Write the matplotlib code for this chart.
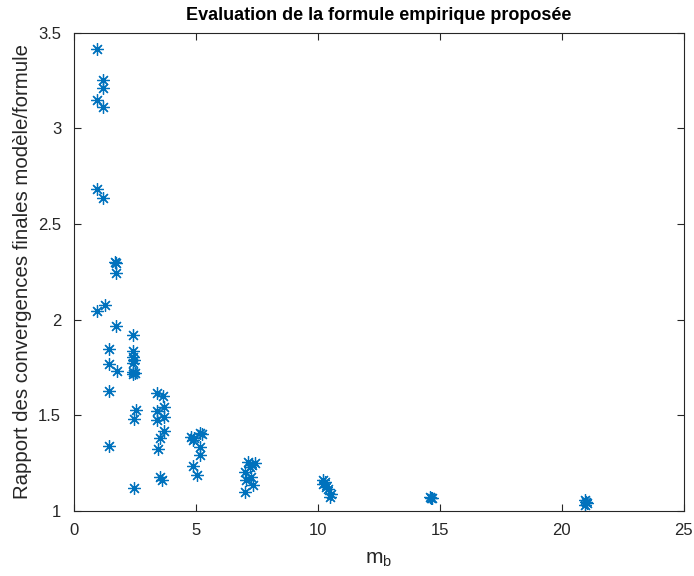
import matplotlib
matplotlib.use("Agg")
import matplotlib.pyplot as plt

# valeurs (m_b, rapport)
mb_1 = [0.97, 1.19, 1.22, 0.97, 1.19, 0.97, 1.19, 0.97, 1.29]
r_1 = [3.413, 3.251, 3.214, 3.148, 3.110, 2.681, 2.634, 2.046, 2.076]

mb_15 = [1.45, 1.45, 1.45, 1.45, 1.68, 1.74, 1.72, 1.72, 1.79]
r_15 = [1.849, 1.766, 1.628, 1.340, 2.302, 2.296, 2.242, 1.968, 1.731]

mb_25 = [2.42, 2.42, 2.45, 2.47, 2.45, 2.42, 2.50, 2.45, 2.56, 2.47, 2.47]
r_25 = [1.921, 1.837, 1.805, 1.788, 1.771, 1.727, 1.722, 1.715, 1.530, 1.483, 1.122]

mb_35 = [3.43, 3.65, 3.70, 3.43, 3.70, 3.43, 3.70, 3.55, 3.48, 3.55, 3.62]
r_35 = [1.619, 1.600, 1.541, 1.523, 1.492, 1.474, 1.418, 1.379, 1.326, 1.178, 1.161]

mb_5 = [4.83, 5.17, 4.90, 5.17, 5.17, 4.88, 5.04, 4.95, 5.25]
r_5 = [1.387, 1.405, 1.370, 1.335, 1.291, 1.234, 1.187, 1.38, 1.40]

mb_7 = [7.15, 7.42, 7.22, 7.01, 7.29, 7.06, 7.35, 7.01, 7.30]
r_7 = [1.256, 1.248, 1.230, 1.204, 1.178, 1.161, 1.134, 1.099, 1.24]

mb_10 = [10.22, 10.24, 10.33, 10.42, 10.56, 10.52, 10.30]
r_10 = [1.16, 1.143, 1.126, 1.117, 1.091, 1.073, 1.15]

mb_15b = [14.6, 14.7, 14.65]
r_15b = [1.075, 1.07, 1.065]

mb_21 = [20.95, 21.0, 21.05, 20.98]
r_21 = [1.055, 1.045, 1.04, 1.03]

mb = mb_1 + mb_15 + mb_25 + mb_35 + mb_5 + mb_7 + mb_10 + mb_15b + mb_21
r = r_1 + r_15 + r_25 + r_35 + r_5 + r_7 + r_10 + r_15b + r_21

plt.rcParams["font.family"] = ["Liberation Sans", "DejaVu Sans"]
plt.rcParams["mathtext.default"] = "regular"

fig = plt.figure(figsize=(6.94, 5.76), dpi=100)
ax = fig.add_axes([0.106, 0.113, 0.879, 0.830])

ax.plot(mb, r, linestyle="none", marker=(8, 2, 0), ms=9, mew=0.9,
        color=(0, 0.447, 0.741))

ax.set_xlim(0, 25)
ax.set_ylim(1, 3.5)
ax.set_xticks([0, 5, 10, 15, 20, 25])
ax.set_yticks([1, 1.5, 2, 2.5, 3, 3.5])
ax.set_yticklabels(["1", "1.5", "2", "2.5", "3", "3.5"])

gris = (0.15, 0.15, 0.15)
for s in ax.spines.values():
    s.set_color(gris)
    s.set_linewidth(0.8)
ax.tick_params(direction="in", top=True, right=True, colors=gris,
               labelsize=12, length=5, width=0.8)
ax.tick_params(axis="x", pad=9)
ax.tick_params(axis="y", pad=9)

ax.set_title("Evaluation de la formule empirique proposée", fontsize=13,
             fontweight="bold", color="black", pad=9)
ax.set_xlabel("m$_b$", fontsize=15, color=gris, labelpad=8)
ax.set_ylabel("Rapport des convergences finales modèle/formule", fontsize=14.7,
              color=gris, labelpad=4)

fig.savefig("out.png", dpi=100, facecolor="white")
